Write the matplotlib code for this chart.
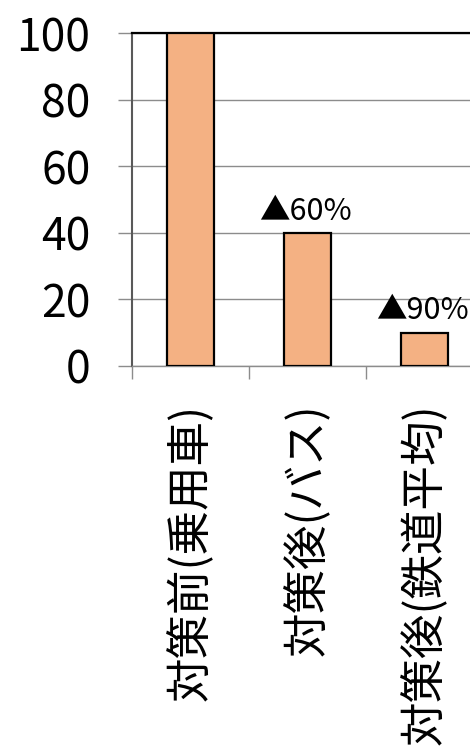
import matplotlib
matplotlib.use('Agg')
import matplotlib.pyplot as plt

plt.rcParams['font.family'] = ['Noto Sans CJK JP', 'DejaVu Sans']

categories = ['対策前(乗用車)', '対策後(バス)', '対策後(鉄道平均)']
values = [100, 40, 10]
notes = ['', '▲60%', '▲90%']
yticks = [0, 20, 40, 60, 80, 100]

fig = plt.figure(figsize=(4.7, 7.53), dpi=100)
ax = fig.add_axes([0.2809, 0.514, 0.7468, 0.442])

x = list(range(len(categories)))
ax.bar(x, values, width=0.4, color='#F4B183', edgecolor='black', linewidth=1.6, zorder=3)

# reduction labels above bars
for i, (v, n) in enumerate(zip(values, notes)):
    if n:
        ax.text(i - 0.02, v + 4, n, ha='center', va='baseline', fontsize=22, zorder=4)

ax.set_xlim(-0.5, len(categories) - 0.5)
ax.set_ylim(0, 100)
ax.set_yticks(yticks)
ax.set_yticklabels([str(t) for t in yticks], fontsize=32)
ax.grid(axis='y', color='#8c8c8c', linewidth=1.0, zorder=0)

# tick marks on category boundaries, labels at centres
ax.set_xticks([i - 0.5 for i in range(len(categories))])
ax.set_xticklabels([])
ax.set_xticks(x, minor=True)
ax.set_xticklabels(categories, minor=True, rotation=90, fontsize=32,
                   ha='center', va='top')
ax.tick_params(axis='x', which='major', length=9, color='#8c8c8c', width=1.0)
ax.tick_params(axis='x', which='minor', length=0, pad=27)
ax.tick_params(axis='y', length=10, color='#8c8c8c', width=1.0, pad=20)

ax.spines['left'].set_color('#595959')
ax.spines['left'].set_linewidth(1.5)
ax.spines['bottom'].set_color('#8c8c8c')
ax.spines['bottom'].set_linewidth(1.0)
ax.spines['top'].set_color('black')
ax.spines['top'].set_linewidth(1.6)
ax.spines['right'].set_visible(False)

fig.savefig('out.png', dpi=100)
